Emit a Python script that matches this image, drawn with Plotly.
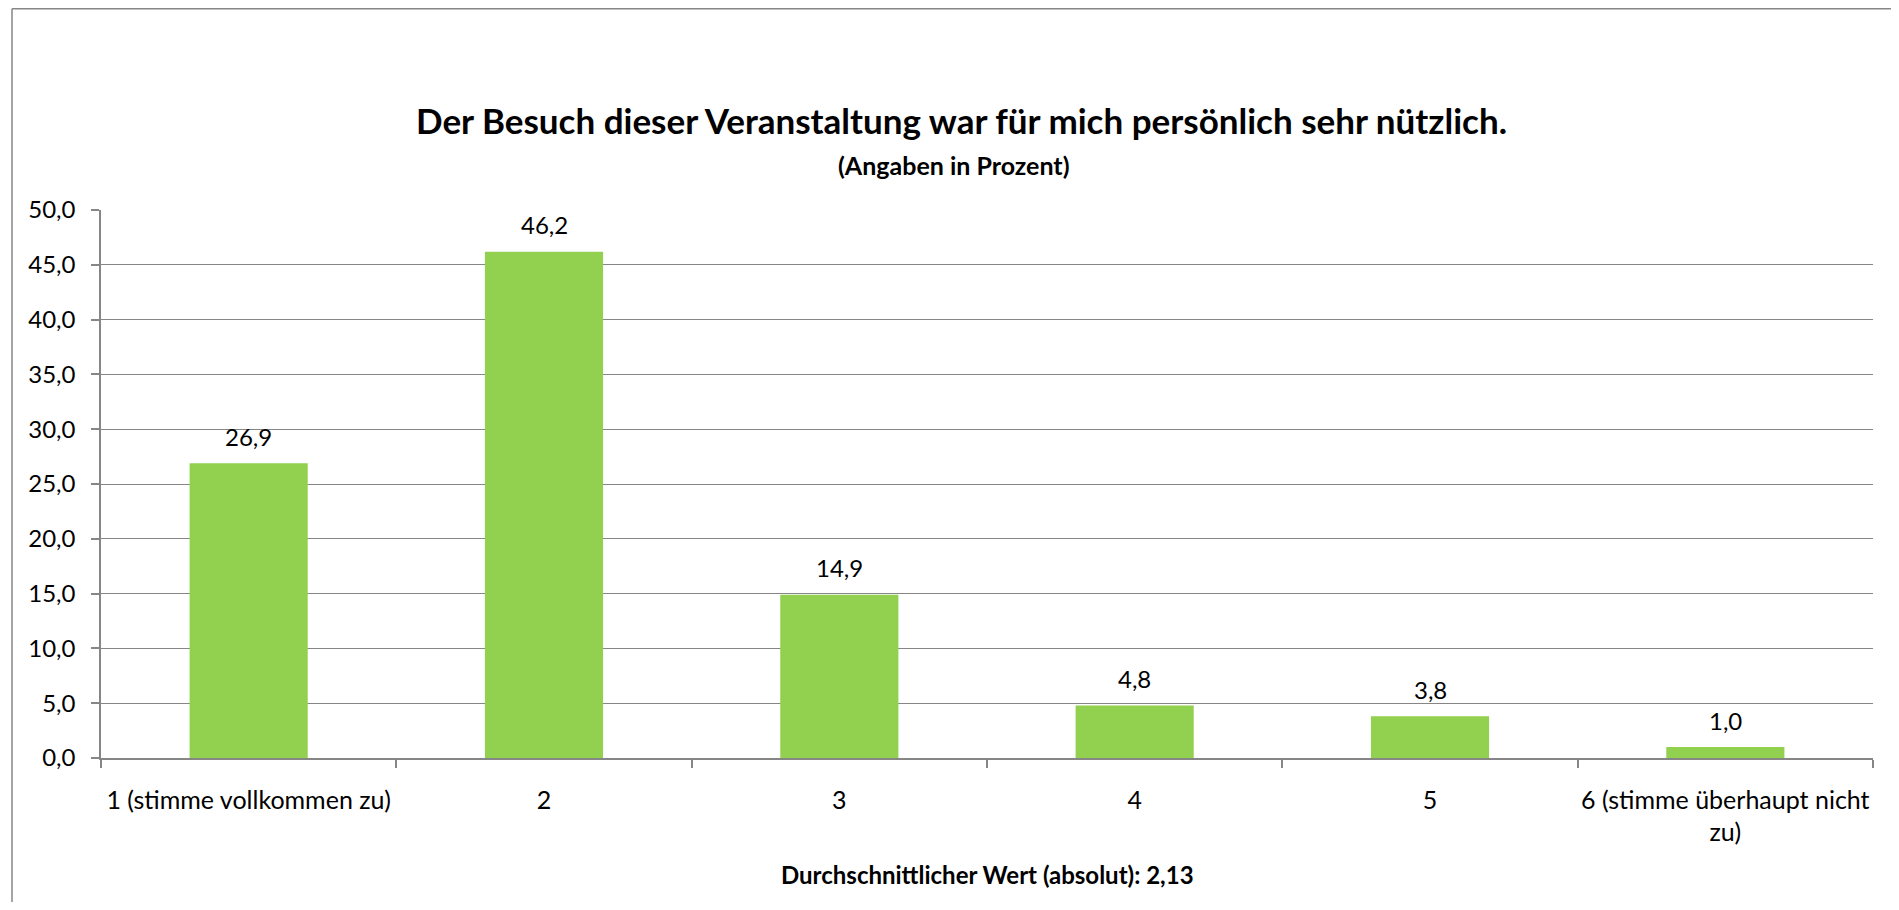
import plotly.graph_objects as go

categories = ["1 (stimme vollkommen zu)", "2", "3", "4", "5", "6 (stimme überhaupt nicht<br>zu)"]
values = [26.9, 46.2, 14.9, 4.8, 3.8, 1.0]
y_ticks = [0, 5, 10, 15, 20, 25, 30, 35, 40, 45, 50]

title_text = "Der Besuch dieser Veranstaltung war für mich persönlich sehr nützlich."
subtitle_text = "(Angaben in Prozent)"
xtitle_text = "Durchschnittlicher Wert (absolut): 2,13"

# page body margin offset (default 8px) compensated, avoid scrollbars
OFF = 8
W, H = 1899 - 2 * OFF, 910 - 2 * OFF
L, R, T, B = 101 - OFF, 1873 - OFF, 210 - OFF, 758 - OFF

def px2x(px):
    return (px - OFF - L) / (R - L)

def py2y(py):
    return (B - (py - OFF)) / (B - T)

FONT = "Lato, 'Open Sans', sans-serif"
GRAY = "#868686"

fig = go.Figure()
fig.add_trace(go.Bar(
    x=list(range(len(categories))), y=values,
    marker=dict(color="#92D050", line=dict(width=0)),
    width=0.4,
    hoverinfo="skip",
))

annotations = []
for i, v in enumerate(values):
    annotations.append(dict(
        x=i, y=v, xref="x", yref="y",
        text=f"{v:.1f}".replace(".", ","),
        showarrow=False, yanchor="middle", yshift=27,
        font=dict(family=FONT, size=24, color="#000000"),
    ))

annotations.append(dict(
    x=px2x(961), y=py2y(120), xref="paper", yref="paper",
    text=f"<b>{title_text}</b>", showarrow=False,
    xanchor="center", yanchor="middle",
    font=dict(family=FONT, size=35, color="#000000"),
))
annotations.append(dict(
    x=px2x(954), y=py2y(165), xref="paper", yref="paper",
    text=f"<b>{subtitle_text}</b>", showarrow=False,
    xanchor="center", yanchor="middle",
    font=dict(family=FONT, size=25, color="#000000"),
))
annotations.append(dict(
    x=px2x(987), y=py2y(874), xref="paper", yref="paper",
    text=f"<b>{xtitle_text}</b>", showarrow=False,
    xanchor="center", yanchor="middle",
    font=dict(family=FONT, size=24, color="#000000"),
))

bx0, by0 = px2x(12), py2y(925)
by1, bx1 = py2y(OFF + 0.8), px2x(1915)

fig.update_layout(
    width=W, height=H,
    margin=dict(l=L, r=W - R, t=T, b=H - B, pad=0),
    paper_bgcolor="white", plot_bgcolor="white",
    showlegend=False,
    separators=",.",
    font=dict(family=FONT, size=24, color="#000000"),
    annotations=annotations,
    bargap=0.6,
    shapes=[
        dict(type="line", xref="paper", yref="paper",
             x0=bx0, x1=bx0, y0=by0, y1=by1,
             line=dict(color=GRAY, width=1.5), layer="below"),
        dict(type="line", xref="paper", yref="paper",
             x0=bx0, x1=bx1, y0=by1, y1=by1,
             line=dict(color=GRAY, width=1.5), layer="below"),
    ],
)

fig.update_yaxes(
    range=[0, 50], tickvals=y_ticks, tickformat=".1f",
    showgrid=True, gridcolor=GRAY, gridwidth=1.2,
    showline=True, linecolor=GRAY, linewidth=1.5,
    ticks="outside", ticklen=8, tickcolor=GRAY, tickwidth=1.5,
    ticklabelstandoff=11,
    tickfont=dict(family=FONT, size=24, color="#000000"),
    zeroline=False, fixedrange=True,
)
fig.update_xaxes(
    tickvals=list(range(len(categories))), ticktext=categories,
    range=[-0.5, len(categories) - 0.5],
    showgrid=False,
    showline=True, linecolor=GRAY, linewidth=1.5,
    ticks="",
    ticklabelstandoff=19,
    tickfont=dict(family=FONT, size=25, color="#000000"),
    zeroline=False, fixedrange=True,
    minor=dict(tickvals=[i - 0.5 for i in range(len(categories) + 1)],
               ticks="outside", ticklen=8, tickcolor=GRAY, tickwidth=1.5,
               showgrid=False),
)

fig.write_html("out.html")
